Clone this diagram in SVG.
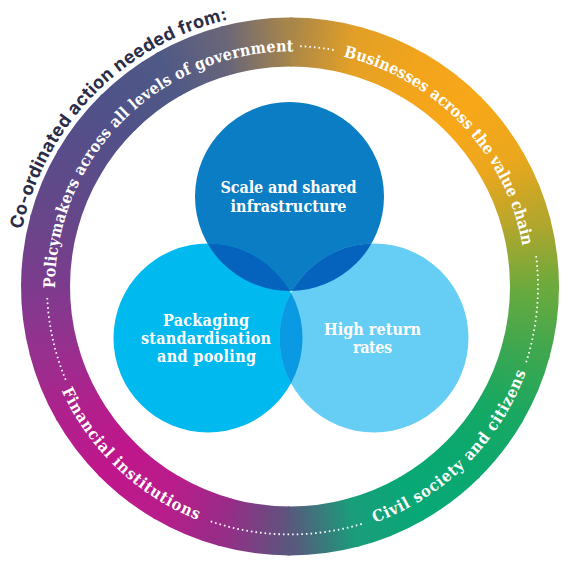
<svg xmlns="http://www.w3.org/2000/svg" xmlns:xlink="http://www.w3.org/1999/xlink" width="571" height="578" viewBox="0 0 571 578">
<style>
.ringtxt{font-family:"DejaVu Serif Condensed","DejaVu Serif","Liberation Serif",serif;font-stretch:condensed;font-weight:bold;font-size:16px;fill:#ffffff;}
.title{font-family:Inter,"Liberation Sans",Arial,sans-serif;font-weight:700;font-size:18px;fill:#2b2c47;}
.ctxt{font-family:"DejaVu Serif Condensed","DejaVu Serif","Liberation Serif",serif;font-stretch:condensed;font-weight:bold;font-size:16px;fill:#ffffff;text-anchor:middle;}
.dots{fill:none;stroke:#ffffff;stroke-width:1.8;stroke-dasharray:1.6 3;}
</style>
<defs>
<path id="seg" d="M244.5 0A244.5 244.5 0 0 1 235.49 65.75" fill="none" stroke-width="49"/>
<linearGradient id="gb" gradientUnits="userSpaceOnUse" x1="244.5" y1="0" x2="236.17" y2="63.28"/>
<linearGradient id="g0" href="#gb"><stop offset="0" stop-color="#6caa3d"/><stop offset="1" stop-color="#3ea74f"/></linearGradient>
<linearGradient id="g1" href="#gb"><stop offset="0" stop-color="#3ea74f"/><stop offset="1" stop-color="#18a862"/></linearGradient>
<linearGradient id="g2" href="#gb"><stop offset="0" stop-color="#18a862"/><stop offset="1" stop-color="#0ba86f"/></linearGradient>
<linearGradient id="g3" href="#gb"><stop offset="0" stop-color="#0ba86f"/><stop offset="1" stop-color="#08a877"/></linearGradient>
<linearGradient id="g4" href="#gb"><stop offset="0" stop-color="#08a877"/><stop offset="1" stop-color="#1a9d7b"/></linearGradient>
<linearGradient id="g5" href="#gb"><stop offset="0" stop-color="#1a9d7b"/><stop offset="1" stop-color="#5a577d"/></linearGradient>
<linearGradient id="g6" href="#gb"><stop offset="0" stop-color="#5a577d"/><stop offset="1" stop-color="#962d87"/></linearGradient>
<linearGradient id="g7" href="#gb"><stop offset="0" stop-color="#962d87"/><stop offset="1" stop-color="#b91d8b"/></linearGradient>
<linearGradient id="g8" href="#gb"><stop offset="0" stop-color="#b91d8b"/><stop offset="1" stop-color="#bf168b"/></linearGradient>
<linearGradient id="g9" href="#gb"><stop offset="0" stop-color="#bf168b"/><stop offset="1" stop-color="#b0208d"/></linearGradient>
<linearGradient id="g10" href="#gb"><stop offset="0" stop-color="#b0208d"/><stop offset="1" stop-color="#97308e"/></linearGradient>
<linearGradient id="g11" href="#gb"><stop offset="0" stop-color="#97308e"/><stop offset="1" stop-color="#7d3b8e"/></linearGradient>
<linearGradient id="g12" href="#gb"><stop offset="0" stop-color="#7d3b8e"/><stop offset="1" stop-color="#684689"/></linearGradient>
<linearGradient id="g13" href="#gb"><stop offset="0" stop-color="#684689"/><stop offset="1" stop-color="#5a4c89"/></linearGradient>
<linearGradient id="g14" href="#gb"><stop offset="0" stop-color="#5a4c89"/><stop offset="1" stop-color="#4f5288"/></linearGradient>
<linearGradient id="g15" href="#gb"><stop offset="0" stop-color="#4f5288"/><stop offset="1" stop-color="#4f5986"/></linearGradient>
<linearGradient id="g16" href="#gb"><stop offset="0" stop-color="#4f5986"/><stop offset="1" stop-color="#6a6679"/></linearGradient>
<linearGradient id="g17" href="#gb"><stop offset="0" stop-color="#6a6679"/><stop offset="1" stop-color="#a8864a"/></linearGradient>
<linearGradient id="g18" href="#gb"><stop offset="0" stop-color="#a8864a"/><stop offset="1" stop-color="#e3a026"/></linearGradient>
<linearGradient id="g19" href="#gb"><stop offset="0" stop-color="#e3a026"/><stop offset="1" stop-color="#f2a41c"/></linearGradient>
<linearGradient id="g20" href="#gb"><stop offset="0" stop-color="#f2a41c"/><stop offset="1" stop-color="#f8a718"/></linearGradient>
<linearGradient id="g21" href="#gb"><stop offset="0" stop-color="#f8a718"/><stop offset="1" stop-color="#eba71d"/></linearGradient>
<linearGradient id="g22" href="#gb"><stop offset="0" stop-color="#eba71d"/><stop offset="1" stop-color="#b4a62c"/></linearGradient>
<linearGradient id="g23" href="#gb"><stop offset="0" stop-color="#b4a62c"/><stop offset="1" stop-color="#6caa3d"/></linearGradient>
<clipPath id="clipTop"><circle cx="289.5" cy="196.5" r="94.5"/></clipPath>
<clipPath id="clipLeft"><circle cx="208" cy="338" r="94.5"/></clipPath>
<path id="p-title" d="M22 229.5A274 274 0 0 1 251.9 15.2"/>
<path id="p-policy" d="M55 288.1A235 235 0 0 1 314.6 52.8"/>
<path id="p-business" d="M343.3 56.6A236 236 0 0 1 525.4 270"/>
<path id="p-civil" d="M374.9 522.7A251 251 0 0 0 533.5 347.2"/>
<path id="p-financial" d="M61.6 390.6A251 251 0 0 0 225 528.9"/>
</defs>

<g id="ring">
<use href="#seg" transform="translate(290 286.5) rotate(0)" stroke="url(#g0)"/>
<use href="#seg" transform="translate(290 286.5) rotate(15)" stroke="url(#g1)"/>
<use href="#seg" transform="translate(290 286.5) rotate(30)" stroke="url(#g2)"/>
<use href="#seg" transform="translate(290 286.5) rotate(45)" stroke="url(#g3)"/>
<use href="#seg" transform="translate(290 286.5) rotate(60)" stroke="url(#g4)"/>
<use href="#seg" transform="translate(290 286.5) rotate(75)" stroke="url(#g5)"/>
<use href="#seg" transform="translate(290 286.5) rotate(90)" stroke="url(#g6)"/>
<use href="#seg" transform="translate(290 286.5) rotate(105)" stroke="url(#g7)"/>
<use href="#seg" transform="translate(290 286.5) rotate(120)" stroke="url(#g8)"/>
<use href="#seg" transform="translate(290 286.5) rotate(135)" stroke="url(#g9)"/>
<use href="#seg" transform="translate(290 286.5) rotate(150)" stroke="url(#g10)"/>
<use href="#seg" transform="translate(290 286.5) rotate(165)" stroke="url(#g11)"/>
<use href="#seg" transform="translate(290 286.5) rotate(180)" stroke="url(#g12)"/>
<use href="#seg" transform="translate(290 286.5) rotate(195)" stroke="url(#g13)"/>
<use href="#seg" transform="translate(290 286.5) rotate(210)" stroke="url(#g14)"/>
<use href="#seg" transform="translate(290 286.5) rotate(225)" stroke="url(#g15)"/>
<use href="#seg" transform="translate(290 286.5) rotate(240)" stroke="url(#g16)"/>
<use href="#seg" transform="translate(290 286.5) rotate(255)" stroke="url(#g17)"/>
<use href="#seg" transform="translate(290 286.5) rotate(270)" stroke="url(#g18)"/>
<use href="#seg" transform="translate(290 286.5) rotate(285)" stroke="url(#g19)"/>
<use href="#seg" transform="translate(290 286.5) rotate(300)" stroke="url(#g20)"/>
<use href="#seg" transform="translate(290 286.5) rotate(315)" stroke="url(#g21)"/>
<use href="#seg" transform="translate(290 286.5) rotate(330)" stroke="url(#g22)"/>
<use href="#seg" transform="translate(290 286.5) rotate(345)" stroke="url(#g23)"/>
</g>

<g id="title">
<text class="title"><textPath href="#p-title" textLength="310" lengthAdjust="spacing">Co-ordinated action needed from:</textPath></text>
</g>

<g id="connectors">
<path class="dots" d="M65.7 379.9A243 243 0 0 1 47.2 296.7"/>
<path class="dots" d="M300.1 46.2A240.5 240.5 0 0 1 335.1 50.3"/>
<path class="dots" d="M536.1 256.1A248 248 0 0 1 526 362.7"/>
<path class="dots" d="M361.7 523.9A248 248 0 0 1 209.7 521.1"/>
</g>

<g id="actor-policymakers">
<text class="ringtxt"><textPath href="#p-policy" textLength="374" lengthAdjust="spacing">Policymakers across all levels of government</textPath></text>
</g>
<g id="actor-businesses">
<text class="ringtxt"><textPath href="#p-business" textLength="276" lengthAdjust="spacing">Businesses across the value chain</textPath></text>
</g>
<g id="actor-civil">
<text class="ringtxt"><textPath href="#p-civil" textLength="220" lengthAdjust="spacing">Civil society and citizens</textPath></text>
</g>
<g id="actor-financial">
<text class="ringtxt"><textPath href="#p-financial" textLength="192" lengthAdjust="spacing">Financial institutions</textPath></text>
</g>

<g id="circles">
<circle cx="289.5" cy="196.5" r="94.5" fill="#0b7dc4"/>
<circle cx="208" cy="338" r="94.5" fill="#00b9ef"/>
<circle cx="374" cy="338" r="94.5" fill="#66cdf5"/>
<circle cx="374" cy="338" r="94.5" fill="#0a9ae3" clip-path="url(#clipLeft)"/>
<circle cx="208" cy="338" r="94.5" fill="#0663bd" clip-path="url(#clipTop)"/>
<circle cx="374" cy="338" r="94.5" fill="#0663bd" clip-path="url(#clipTop)"/>
</g>

<g id="node-scale">
<text class="ctxt" x="288.5" y="193" textLength="136" lengthAdjust="spacing">Scale and shared</text>
<text class="ctxt" x="288.5" y="212" textLength="116" lengthAdjust="spacing">infrastructure</text>
</g>
<g id="node-packaging">
<text class="ctxt" x="206" y="326" textLength="86" lengthAdjust="spacing">Packaging</text>
<text class="ctxt" x="206" y="344" textLength="130" lengthAdjust="spacing">standardisation</text>
<text class="ctxt" x="206.5" y="362" textLength="99" lengthAdjust="spacing">and pooling</text>
</g>
<g id="node-returns">
<text class="ctxt" x="372.5" y="335" textLength="97" lengthAdjust="spacing">High return</text>
<text class="ctxt" x="372.5" y="352.5" textLength="39" lengthAdjust="spacing">rates</text>
</g>
</svg>
